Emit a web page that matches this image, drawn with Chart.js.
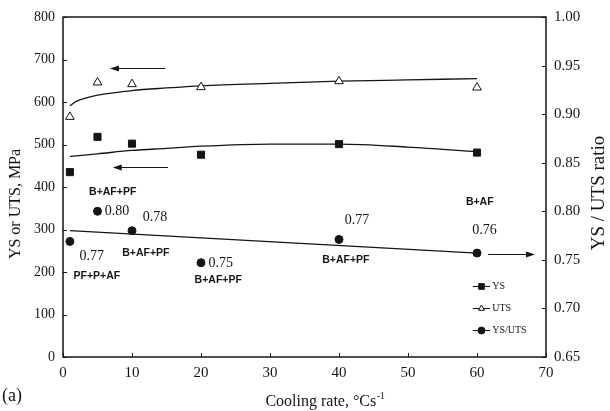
<!DOCTYPE html>
<html><head><meta charset="utf-8">
<script src="https://cdn.jsdelivr.net/npm/chart.js@4"></script>
<style>html,body{margin:0;padding:0;background:#fff}canvas{display:block}</style>
</head><body><canvas id="c" width="610" height="411"></canvas>
<script>
// ---- data ----
const coolingRate = [1, 5, 10, 20, 40, 60];
const ysValues = [435, 518, 502, 476, 501, 481];
const utsValues = [565, 646, 642, 635, 649, 634];
const ratioValues = [0.769, 0.800, 0.780, 0.747, 0.771, 0.757];
const utsFitX = [1, 1.5, 2, 3, 5, 7, 10, 15, 20, 30, 40, 50, 60];
const utsFitY = [591, 597, 602, 608, 616, 621, 627, 633, 638, 644, 649, 652, 655];
const ysFitX = [1, 5, 10, 15, 20, 30, 40, 50, 60];
const ysFitY = [472, 478, 486, 491, 496, 501, 501, 494, 483];
const ratioFitX = [1, 60];
const ratioFitY = [0.780, 0.757];
const xTicks = [0, 10, 20, 30, 40, 50, 60, 70];
const yLeftTicks = [0, 100, 200, 300, 400, 500, 600, 700, 800];
const yRightTicks = [0.65, 0.70, 0.75, 0.80, 0.85, 0.90, 0.95, 1.00];
const legendLabels = ['YS', 'UTS', 'YS/UTS'];
const numberLabels = ['0.80', '0.78', '0.77', '0.75', '0.77', '0.76'];
const phaseLabels = ['B+AF+PF', 'PF+P+AF', 'B+AF+PF', 'B+AF+PF', 'B+AF+PF', 'B+AF'];

// ---- layout of annotations (data coordinates) ----
const numberPos = [[6.05, 343.5], [11.56, 329], [2.4, 237.6], [21.1, 221], [40.85, 322], [59.3, 299]];
const phasePos = [[7.2, 388], [4.9, 190.6], [12.0, 244.7], [22.5, 181], [41.0, 228], [60.4, 364.7]];
const arrowPos = [[14.8, 6.8, 680], [15.2, 7.2, 447], [61.6, 68.4, 242]];
const legendPos = [[59.4, 61.9, 62.2, 167], [59.4, 61.9, 62.2, 115], [59.4, 61.9, 62.2, 64]];

const INK = '#151515';
const pts = (xs, ys) => xs.map((x, i) => ({x, y: ys[i]}));

const overlay = {
  id: 'overlay',
  afterDraw(chart) {
    const ctx = chart.ctx, ca = chart.chartArea;
    const sx = chart.scales.x, sy = chart.scales.y, sy1 = chart.scales.y1;
    ctx.save();
    ctx.strokeStyle = INK; ctx.fillStyle = INK;
    // frame
    ctx.lineWidth = 1.5;
    ctx.strokeRect(ca.left, ca.top, ca.right - ca.left, ca.bottom - ca.top);
    // inside ticks
    ctx.lineWidth = 1;
    ctx.beginPath();
    xTicks.forEach(v => { const p = Math.round(sx.getPixelForValue(v)) + 0.5; ctx.moveTo(p, ca.bottom); ctx.lineTo(p, ca.bottom - 4); });
    yLeftTicks.forEach(v => { const p = Math.round(sy.getPixelForValue(v)) + 0.5; ctx.moveTo(ca.left, p); ctx.lineTo(ca.left + 4, p); });
    yRightTicks.forEach(v => { const p = Math.round(sy1.getPixelForValue(v)) + 0.5; ctx.moveTo(ca.right, p); ctx.lineTo(ca.right - 4, p); });
    ctx.stroke();
    // number labels
    ctx.font = '14px "Liberation Serif", serif';
    ctx.textAlign = 'left'; ctx.textBaseline = 'middle';
    numberLabels.forEach((t, i) => ctx.fillText(t, sx.getPixelForValue(numberPos[i][0]), sy.getPixelForValue(numberPos[i][1])));
    // phase labels
    ctx.font = 'bold 10.5px "Liberation Sans", Arial, sans-serif';
    ctx.textAlign = 'center';
    phaseLabels.forEach((t, i) => ctx.fillText(t, sx.getPixelForValue(phasePos[i][0]), sy.getPixelForValue(phasePos[i][1])));
    // arrows
    arrowPos.forEach(a => {
      const x0 = sx.getPixelForValue(a[0]), x1 = sx.getPixelForValue(a[1]), y = Math.round(sy.getPixelForValue(a[2])) + 0.5;
      const dir = x1 > x0 ? 1 : -1;
      ctx.lineWidth = 1.2;
      ctx.beginPath(); ctx.moveTo(x0, y); ctx.lineTo(x1 - dir * 6, y); ctx.stroke();
      ctx.beginPath(); ctx.moveTo(x1, y); ctx.lineTo(x1 - dir * 9, y - 3); ctx.lineTo(x1 - dir * 9, y + 3); ctx.closePath(); ctx.fill();
    });
    // legend
    const styles = ['rect', 'triangle', 'circle'];
    ctx.font = '10px "Liberation Serif", serif';
    ctx.textAlign = 'left';
    legendLabels.forEach((t, i) => {
      const [a, b, c, v] = legendPos[i];
      const y = Math.round(sy.getPixelForValue(v)) + 0.5;
      const xa = sx.getPixelForValue(a), xb = sx.getPixelForValue(b);
      ctx.lineWidth = 1;
      ctx.beginPath(); ctx.moveTo(xa, y); ctx.lineTo(xb, y); ctx.stroke();
      ctx.fillStyle = styles[i] === 'triangle' ? '#fff' : INK;
      Chart.helpers.drawPoint(ctx, {pointStyle: styles[i], radius: styles[i] === 'rect' ? 4 : 3.5, rotation: 0, borderWidth: 1}, (xa + xb) / 2, y);
      ctx.fillStyle = INK;
      ctx.fillText(t, sx.getPixelForValue(c), y);
    });
    // axis titles
    ctx.textAlign = 'center'; ctx.textBaseline = 'middle';
    ctx.font = '16px "Liberation Serif", serif';
    ctx.save(); ctx.translate(16, (ca.top + ca.bottom) / 2 + 17); ctx.rotate(-Math.PI / 2); ctx.fillText('YS or UTS, MPa', 0, 0); ctx.restore();
    ctx.font = '19px "Liberation Serif", serif';
    ctx.save(); ctx.translate(599, 193); ctx.rotate(-Math.PI / 2); ctx.fillText('YS / UTS ratio', 0, 0); ctx.restore();
    // x title with superscript
    ctx.font = '16px "Liberation Serif", serif';
    const main = 'Cooling rate, \u00B0Cs';
    const w1 = ctx.measureText(main).width;
    ctx.font = '10px "Liberation Serif", serif';
    const w2 = ctx.measureText('-1').width;
    const startX = 325 - (w1 + w2) / 2;
    ctx.textAlign = 'left';
    ctx.font = '16px "Liberation Serif", serif';
    ctx.fillText(main, startX, 402);
    ctx.font = '10px "Liberation Serif", serif';
    ctx.fillText('-1', startX + w1 + 0.5, 396);
    ctx.font = '18px "Liberation Serif", serif';
    ctx.fillText('(a)', 2, 396);
    ctx.restore();
  }
};

new Chart(document.getElementById('c'), {
  type: 'scatter',
  data: {
    datasets: [
      {label: 'YS', data: pts(coolingRate, ysValues), yAxisID: 'y', pointStyle: 'rect', pointRadius: 5, backgroundColor: INK, borderColor: INK, borderWidth: 1, showLine: false},
      {label: 'UTS', data: pts(coolingRate, utsValues), yAxisID: 'y', pointStyle: 'triangle', pointRadius: 5, backgroundColor: '#fff', borderColor: INK, borderWidth: 1, showLine: false},
      {label: 'YS/UTS', data: pts(coolingRate, ratioValues), yAxisID: 'y1', pointStyle: 'circle', pointRadius: 4, backgroundColor: INK, borderColor: INK, borderWidth: 1, showLine: false},
      {label: 'UTS fit', data: pts(utsFitX, utsFitY), yAxisID: 'y', showLine: true, pointRadius: 0, borderColor: INK, borderWidth: 1.3, cubicInterpolationMode: 'monotone'},
      {label: 'YS fit', data: pts(ysFitX, ysFitY), yAxisID: 'y', showLine: true, pointRadius: 0, borderColor: INK, borderWidth: 1.3, cubicInterpolationMode: 'monotone'},
      {label: 'ratio fit', data: pts(ratioFitX, ratioFitY), yAxisID: 'y1', showLine: true, pointRadius: 0, borderColor: INK, borderWidth: 1.3}
    ]
  },
  options: {
    responsive: false,
    animation: false,
    layout: {padding: {top: 17, left: 0, right: 0, bottom: 0}},
    plugins: {legend: {display: false}, tooltip: {enabled: false}},
    scales: {
      x: {
        type: 'linear', min: 0, max: 70,
        afterBuildTicks: s => { s.ticks = xTicks.map(v => ({value: v})); },
        afterFit: s => { s.height = 54; },
        grid: {display: false, drawTicks: false}, border: {display: false},
        ticks: {padding: 7, color: INK, font: {family: '"Liberation Serif", serif', size: 15}}
      },
      y: {
        position: 'left', min: 0, max: 800,
        afterBuildTicks: s => { s.ticks = yLeftTicks.map(v => ({value: v})); },
        afterFit: s => { s.width = 63; },
        grid: {display: false, drawTicks: false}, border: {display: false},
        ticks: {padding: 8, color: INK, font: {family: '"Liberation Serif", serif', size: 14}}
      },
      y1: {
        position: 'right', min: 0.65, max: 1.0,
        afterBuildTicks: s => { s.ticks = yRightTicks.map(v => ({value: v})); },
        afterFit: s => { s.width = 64; },
        grid: {display: false, drawTicks: false}, border: {display: false},
        ticks: {padding: 8, color: INK, font: {family: '"Liberation Serif", serif', size: 15}, callback: v => Number(v).toFixed(2)}
      }
    }
  },
  plugins: [overlay]
});
</script>
</body></html>
